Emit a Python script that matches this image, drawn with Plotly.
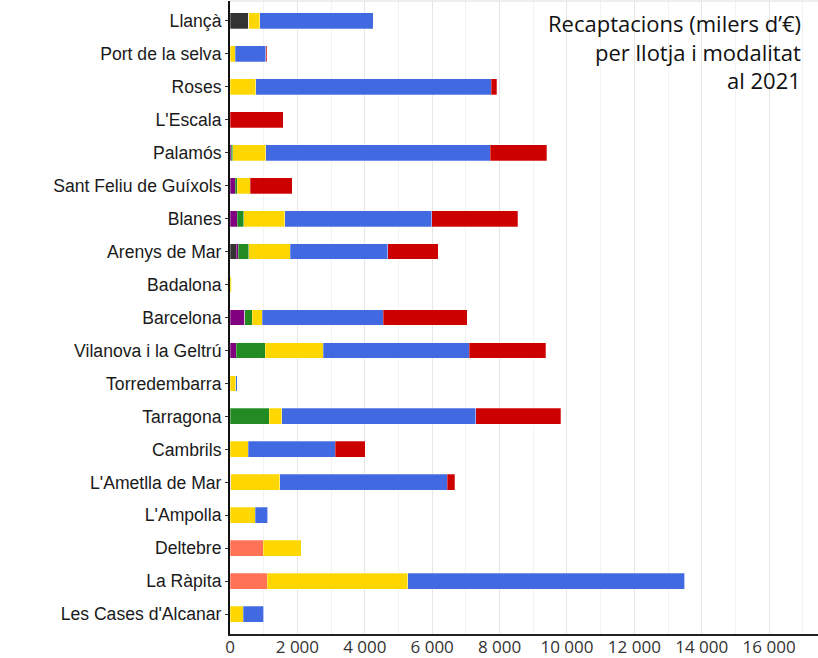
import plotly.graph_objects as go

llotges = ["Llançà", "Port de la selva", "Roses", "L'Escala", "Palamós",
           "Sant Feliu de Guíxols", "Blanes", "Arenys de Mar", "Badalona",
           "Barcelona", "Vilanova i la Geltrú", "Torredembarra", "Tarragona",
           "Cambrils", "L'Ametlla de Mar", "L'Ampolla", "Deltebre", "La Ràpita",
           "Les Cases d'Alcanar"]

# milers d'euros per modalitat (estimats de la imatge)
mod_gris = [560, 0, 0, 0, 0, 0, 0, 178, 0, 0, 0, 0, 0, 0, 0, 0, 0, 0, 0]
mod_lila = [0, 0, 0, 0, 30, 160, 215, 60, 0, 433, 187, 0, 0, 0, 20, 0, 0, 0, 0]
mod_salmo = [0, 0, 0, 0, 0, 0, 0, 0, 0, 0, 0, 0, 0, 0, 0, 0, 988, 1107, 0]
mod_verd = [0, 0, 0, 0, 45, 50, 190, 315, 0, 220, 852, 0, 1166, 0, 0, 0, 0, 0, 0]
mod_groc = [320, 160, 770, 0, 980, 390, 1225, 1238, 45, 297, 1721, 166, 365,
            543, 1452, 742, 1128, 4163, 395]
mod_blau = [3365, 896, 6984, 0, 6670, 0, 4364, 2887, 0, 3600, 4341, 42, 5769,
            2582, 4976, 374, 0, 8231, 602]
mod_vermell = [0, 40, 156, 1580, 1670, 1240, 2540, 1504, 0, 2493, 2276, 0, 2522,
               890, 217, 0, 0, 0, 0]

titol = ["Recaptacions (milers d’€)", "per llotja i modalitat", "al 2021"]

series = [
    ("Modalitat 1", mod_gris, '#333333'),
    ("Modalitat 2", mod_lila, '#800080'),
    ("Modalitat 3", mod_salmo, '#FF7256'),
    ("Modalitat 4", mod_verd, '#228B22'),
    ("Modalitat 5", mod_groc, '#FFD700'),
    ("Modalitat 6", mod_blau, '#4169E1'),
    ("Modalitat 7", mod_vermell, '#CD0000'),
]

fig = go.Figure()

for name, values, color in series:
    fig.add_trace(
        go.Bar(
            y=llotges,
            x=values,
            orientation='h',
            name=name,
            width=0.48,
            marker=dict(color=color, line=dict(color='rgba(255,255,255,0.35)', width=0.8)),
        )
    )

# title, one line per annotation to keep the line spacing tight
for i, line in enumerate(titol):
    fig.add_annotation(
        text=line,
        xref="paper", yref="paper",
        x=0.975, y=0.9646 - i * 0.045,
        xanchor='right', yanchor='middle',
        showarrow=False,
        font=dict(family="Open Sans", size=22, color='#111111'),
    )

fig.update_layout(
    barmode='stack',
    showlegend=False,
    width=818,
    height=658,
    plot_bgcolor='white',
    paper_bgcolor='white',
    separators=", ",
    margin=dict(l=230, r=0, t=1, b=24, autoexpand=False),
    xaxis=dict(
        range=[0, 17450],
        dtick=2000,
        tickformat=",d",
        showgrid=True,
        gridcolor='#e6e6e6',
        gridwidth=1,
        minor=dict(dtick=1000, showgrid=True, gridcolor='#f2f2f2', gridwidth=1),
        showline=True,
        linecolor='#222222',
        linewidth=2,
        zeroline=False,
        ticks='',
        ticklabelstandoff=-3,
        tickfont=dict(family="Open Sans", size=17, color='#333333'),
    ),
    yaxis=dict(
        categoryorder='array',
        categoryarray=llotges,
        range=[18.6, -0.6],
        showline=True,
        linecolor='#111111',
        linewidth=2,
        ticks='outside',
        ticklen=3,
        tickcolor='#333333',
        showgrid=False,
        tickfont=dict(family="Liberation Sans", size=17.6, color='#1a1a1a'),
    ),
)

fig.add_shape(type='line', xref='paper', yref='paper', x0=0, x1=1, y0=1, y1=1,
              line=dict(color='#dddddd', width=1))

fig.write_html("out.html", config={'displayModeBar': False},
               post_script="document.body.style.margin='0';")
